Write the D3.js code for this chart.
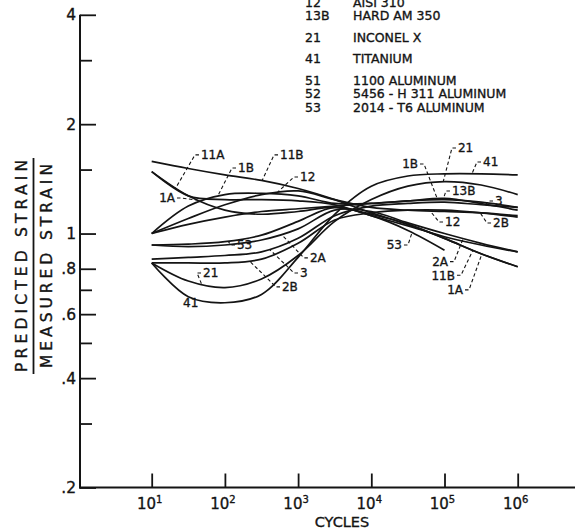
<!DOCTYPE html>
<html><head><meta charset="utf-8">
<script src="https://cdn.jsdelivr.net/npm/d3@7"></script>
<style>
body{margin:0;background:#fff}
svg{display:block}
text{font-family:"DejaVu Sans",sans-serif;fill:#141414;stroke:#141414;stroke-width:0.35px}
</style>
</head><body>
<svg id="c" width="575" height="529"></svg>
<script>
// ---- data (log10 of cycles, ratio predicted/measured strain) ----
const logCycles = [1, 1.5, 2, 2.5, 3, 3.5, 4, 4.5, 5, 5.5, 6];
const s11B = [1.58, 1.51, 1.45, 1.40, 1.33, 1.24, 1.14, 1.06, 0.97, 0.88, 0.81];
const s11A = [1.48, 1.27, 1.24, 1.24, 1.23, 1.20, 1.12, 1.05, 0.98, 0.93, 0.89];
const s1A  = [1.48, 1.27, 1.16, 1.13, 1.15, 1.18, 1.13, 1.06, 0.97, 0.88, 0.81];
const s1B  = [1.00, 1.19, 1.28, 1.29, 1.27, 1.21, 1.21, 1.23, 1.25, 1.21, 1.16];
const s12  = [1.00, 1.10, 1.20, 1.28, 1.31, 1.24, 1.18, 1.16, 1.15, 1.14, 1.12];
const s13B = [1.00, 1.06, 1.11, 1.15, 1.17, 1.19, 1.21, 1.23, 1.24, 1.22, 1.18];
const s53  = [0.93, 0.935, 0.95, 0.99, 1.08, 1.18, 1.12, 1.02, 0.90];
const s2A  = [0.93, 0.92, 0.93, 0.96, 1.03, 1.16, 1.15, 1.07, 1.00, 0.94, 0.89];
const s3   = [0.85, 0.86, 0.87, 0.89, 0.97, 1.12, 1.19, 1.21, 1.22, 1.20, 1.18];
const s2B  = [0.83, 0.83, 0.83, 0.85, 0.94, 1.09, 1.14, 1.16, 1.16, 1.14, 1.11];
const s21  = [0.83, 0.74, 0.71, 0.75, 0.87, 1.08, 1.24, 1.35, 1.39, 1.36, 1.28];
const s41  = [0.83, 0.67, 0.645, 0.68, 0.86, 1.13, 1.35, 1.44, 1.46, 1.46, 1.45];

const series = [
  {id:"11B", values:s11B}, {id:"11A", values:s11A}, {id:"1A", values:s1A},
  {id:"1B", values:s1B}, {id:"12", values:s12}, {id:"13B", values:s13B},
  {id:"53", values:s53}, {id:"2A", values:s2A}, {id:"3", values:s3},
  {id:"2B", values:s2B}, {id:"21", values:s21}, {id:"41", values:s41}
];

const decadeExponents = [1, 2, 3, 4, 5, 6];
const yMajorTicks  = [4, 2, 1, 0.8, 0.6, 0.4, 0.2];
const yMajorLabels = ["4", "2", "1", ".8", ".6", ".4", ".2"];
const yMinorTicks  = [3, 1.5, 0.7, 0.5, 0.3];

const legendCodes = ["12", "13B", "21", "41", "51", "52", "53"];
const legendNames = ["AISI 310", "HARD AM 350", "INCONEL X", "TITANIUM",
                     "1100 ALUMINUM", "5456 - H 311 ALUMINUM", "2014 - T6 ALUMINUM"];
const legendGroups = [0, 0, 1, 2, 3, 3, 3];

// curve labels: text position (log cycles, ratio), point on curve (log cycles)
const annotations = [
  {label:"11A", s:"11A", at:1.318, tL:1.673, tV:1.646, a:"start"},
  {label:"1B",  s:"1B",  at:1.906, tL:2.179, tV:1.515, a:"start"},
  {label:"11B", s:"11B", at:2.507, tL:2.753, tV:1.646, a:"start"},
  {label:"12",  s:"12",  at:2.725, tL:3.026, tV:1.431, a:"start"},
  {label:"1A",  s:"1A",  at:1.619, tL:1.318, tV:1.253, a:"end"},
  {label:"53",  s:"53",  at:2.042, tL:2.165, tV:0.930, a:"start"},
  {label:"2A",  s:"2A",  at:2.780, tL:3.161, tV:0.857, a:"start"},
  {label:"3",   s:"3",   at:2.616, tL:3.026, tV:0.779, a:"start"},
  {label:"2B",  s:"2B",  at:2.343, tL:2.780, tV:0.713, a:"start"},
  {label:"21",  s:"21",  at:1.687, tL:1.701, tV:0.779, a:"start"},
  {label:"41",  s:null,  at:null,  tL:1.428, tV:0.644, a:"start"},
  {label:"21",  s:"21",  at:4.979, tL:5.184, tV:1.720, a:"start"},
  {label:"41",  s:"41",  at:5.376, tL:5.526, tV:1.574, a:"start"},
  {label:"1B",  s:"1B",  at:4.897, tL:4.638, tV:1.554, a:"end"},
  {label:"13B", s:"13B", at:4.979, tL:5.102, tV:1.310, a:"start"},
  {label:"3",   s:"3",   at:5.553, tL:5.690, tV:1.229, a:"start"},
  {label:"12",  s:"12",  at:4.802, tL:5.007, tV:1.076, a:"start"},
  {label:"2B",  s:"2B",  at:5.484, tL:5.663, tV:1.069, a:"start"},
  {label:"53",  s:"53",  at:4.556, tL:4.419, tV:0.930, a:"end"},
  {label:"2A",  s:"2A",  at:5.253, tL:5.048, tV:0.837, a:"end"},
  {label:"11B", s:"11B", at:5.389, tL:5.143, tV:0.768, a:"end"},
  {label:"1A",  s:"1A",  at:5.512, tL:5.253, tV:0.700, a:"end"}
];

// ---- scales ----
const svg = d3.select("#c");
const x = d3.scaleLog().domain([1e1, 1e6]).range([151.7, 517.7]);
const y = d3.scaleLog().domain([0.2, 4]).range([487.5, 14.8]);
const axisX = 80, axisY = y(0.2);
const ink = "#141414";

// ---- axes ----
svg.append("line").attr("x1", axisX).attr("x2", axisX)
  .attr("y1", y(4)).attr("y2", axisY + 1)
  .attr("stroke", ink).attr("stroke-width", 2);
svg.append("line").attr("x1", axisX - 1).attr("x2", 575)
  .attr("y1", axisY).attr("y2", axisY)
  .attr("stroke", ink).attr("stroke-width", 2);

const gy = svg.append("g").attr("transform", `translate(${axisX},0)`);
gy.call(d3.axisRight(y).tickValues(yMajorTicks).tickSize(16).tickFormat(""));
gy.append("g").call(d3.axisRight(y).tickValues(yMinorTicks).tickSize(12).tickFormat(""));
gy.selectAll(".domain").remove();
gy.selectAll("line").attr("stroke", ink).attr("stroke-width", 1.8);

svg.selectAll("text.ytick").data(yMajorTicks).join("text")
  .attr("class", "ytick")
  .attr("x", axisX - 4).attr("y", d => y(d)).attr("dy", "0.36em")
  .attr("text-anchor", "end").attr("font-size", 15.5)
  .text((d, i) => yMajorLabels[i]);

const gx = svg.append("g").attr("transform", `translate(0,${axisY})`);
gx.call(d3.axisTop(x).tickValues(decadeExponents.map(e => Math.pow(10, e))).tickSize(14).tickFormat(""));
gx.selectAll(".domain").remove();
gx.selectAll("line").attr("stroke", ink).attr("stroke-width", 1.8);

const xl = svg.selectAll("text.xtick").data(decadeExponents).join("text")
  .attr("class", "xtick")
  .attr("x", d => x(Math.pow(10, d)) - 2).attr("y", axisY + 21)
  .attr("text-anchor", "middle").attr("font-size", 15);
xl.append("tspan").text("10");
xl.append("tspan").attr("font-size", 10).attr("dy", "-0.55em").text(d => String(d));

svg.append("text").attr("x", 342).attr("y", 527)
  .attr("text-anchor", "middle").attr("font-size", 14.5).text("CYCLES");

// y title as a fraction
svg.append("text").attr("transform", "translate(21,266) rotate(-90)")
  .attr("text-anchor", "middle").attr("dy", "0.36em").attr("font-size", 15.5)
  .attr("textLength", 212).attr("lengthAdjust", "spacing").text("PREDICTED STRAIN");
svg.append("line").attr("x1", 33.5).attr("x2", 33.5).attr("y1", 158).attr("y2", 374)
  .attr("stroke", ink).attr("stroke-width", 1.8);
svg.append("text").attr("transform", "translate(46,266) rotate(-90)")
  .attr("text-anchor", "middle").attr("dy", "0.36em").attr("font-size", 15.5)
  .attr("textLength", 204).attr("lengthAdjust", "spacing").text("MEASURED STRAIN");

// ---- curves ----
const line = d3.line()
  .x((d, i) => x(Math.pow(10, logCycles[i])))
  .y(d => y(d))
  .curve(d3.curveCatmullRom.alpha(0.5));

const paths = {};
series.forEach(s => {
  paths[s.id] = svg.append("path").datum(s.values)
    .attr("d", line).attr("fill", "none")
    .attr("stroke", ink).attr("stroke-width", 1.7)
    .attr("stroke-linejoin", "round").node();
});

function pointOnCurve(id, L) {
  const p = paths[id], total = p.getTotalLength(), tx = x(Math.pow(10, L));
  let best = null, bd = 1e9;
  for (let i = 0; i <= 600; i++) {
    const pt = p.getPointAtLength(total * i / 600);
    const d = Math.abs(pt.x - tx);
    if (d < bd) { bd = d; best = pt; }
  }
  return [best.x, best.y];
}

// ---- labels & leaders ----
const fs = 12;
annotations.forEach(a => {
  const tx = x(Math.pow(10, a.tL)), ty = y(a.tV);
  svg.append("text").attr("x", tx).attr("y", ty).attr("dy", "0.36em")
    .attr("text-anchor", a.a).attr("font-size", fs).text(a.label);
  if (a.s) {
    const [cx, cy] = pointOnCurve(a.s, a.at);
    const dir = a.a === "start" ? -1 : 1;
    const p0 = [tx + dir * 2, ty];
    const p1 = [tx + dir * 6, ty];
    svg.append("path")
      .attr("d", d3.line()([p0, p1, [cx, cy]]))
      .attr("fill", "none").attr("stroke", ink).attr("stroke-width", 1.1)
      .attr("stroke-dasharray", "3.5,2.5");
  }
});

// ---- legend ----
const legendY = (i) => 2 + i * 13.5 + legendGroups[i] * 8;
svg.selectAll("text.lcode").data(legendCodes).join("text")
  .attr("class", "lcode").attr("x", 305).attr("y", (d, i) => legendY(i)).attr("dy", "0.36em")
  .attr("font-size", 12.5).text(d => d);
svg.selectAll("text.lname").data(legendNames).join("text")
  .attr("class", "lname").attr("x", 353).attr("y", (d, i) => legendY(i)).attr("dy", "0.36em")
  .attr("font-size", 12.5).text(d => d);
</script>
</body></html>
